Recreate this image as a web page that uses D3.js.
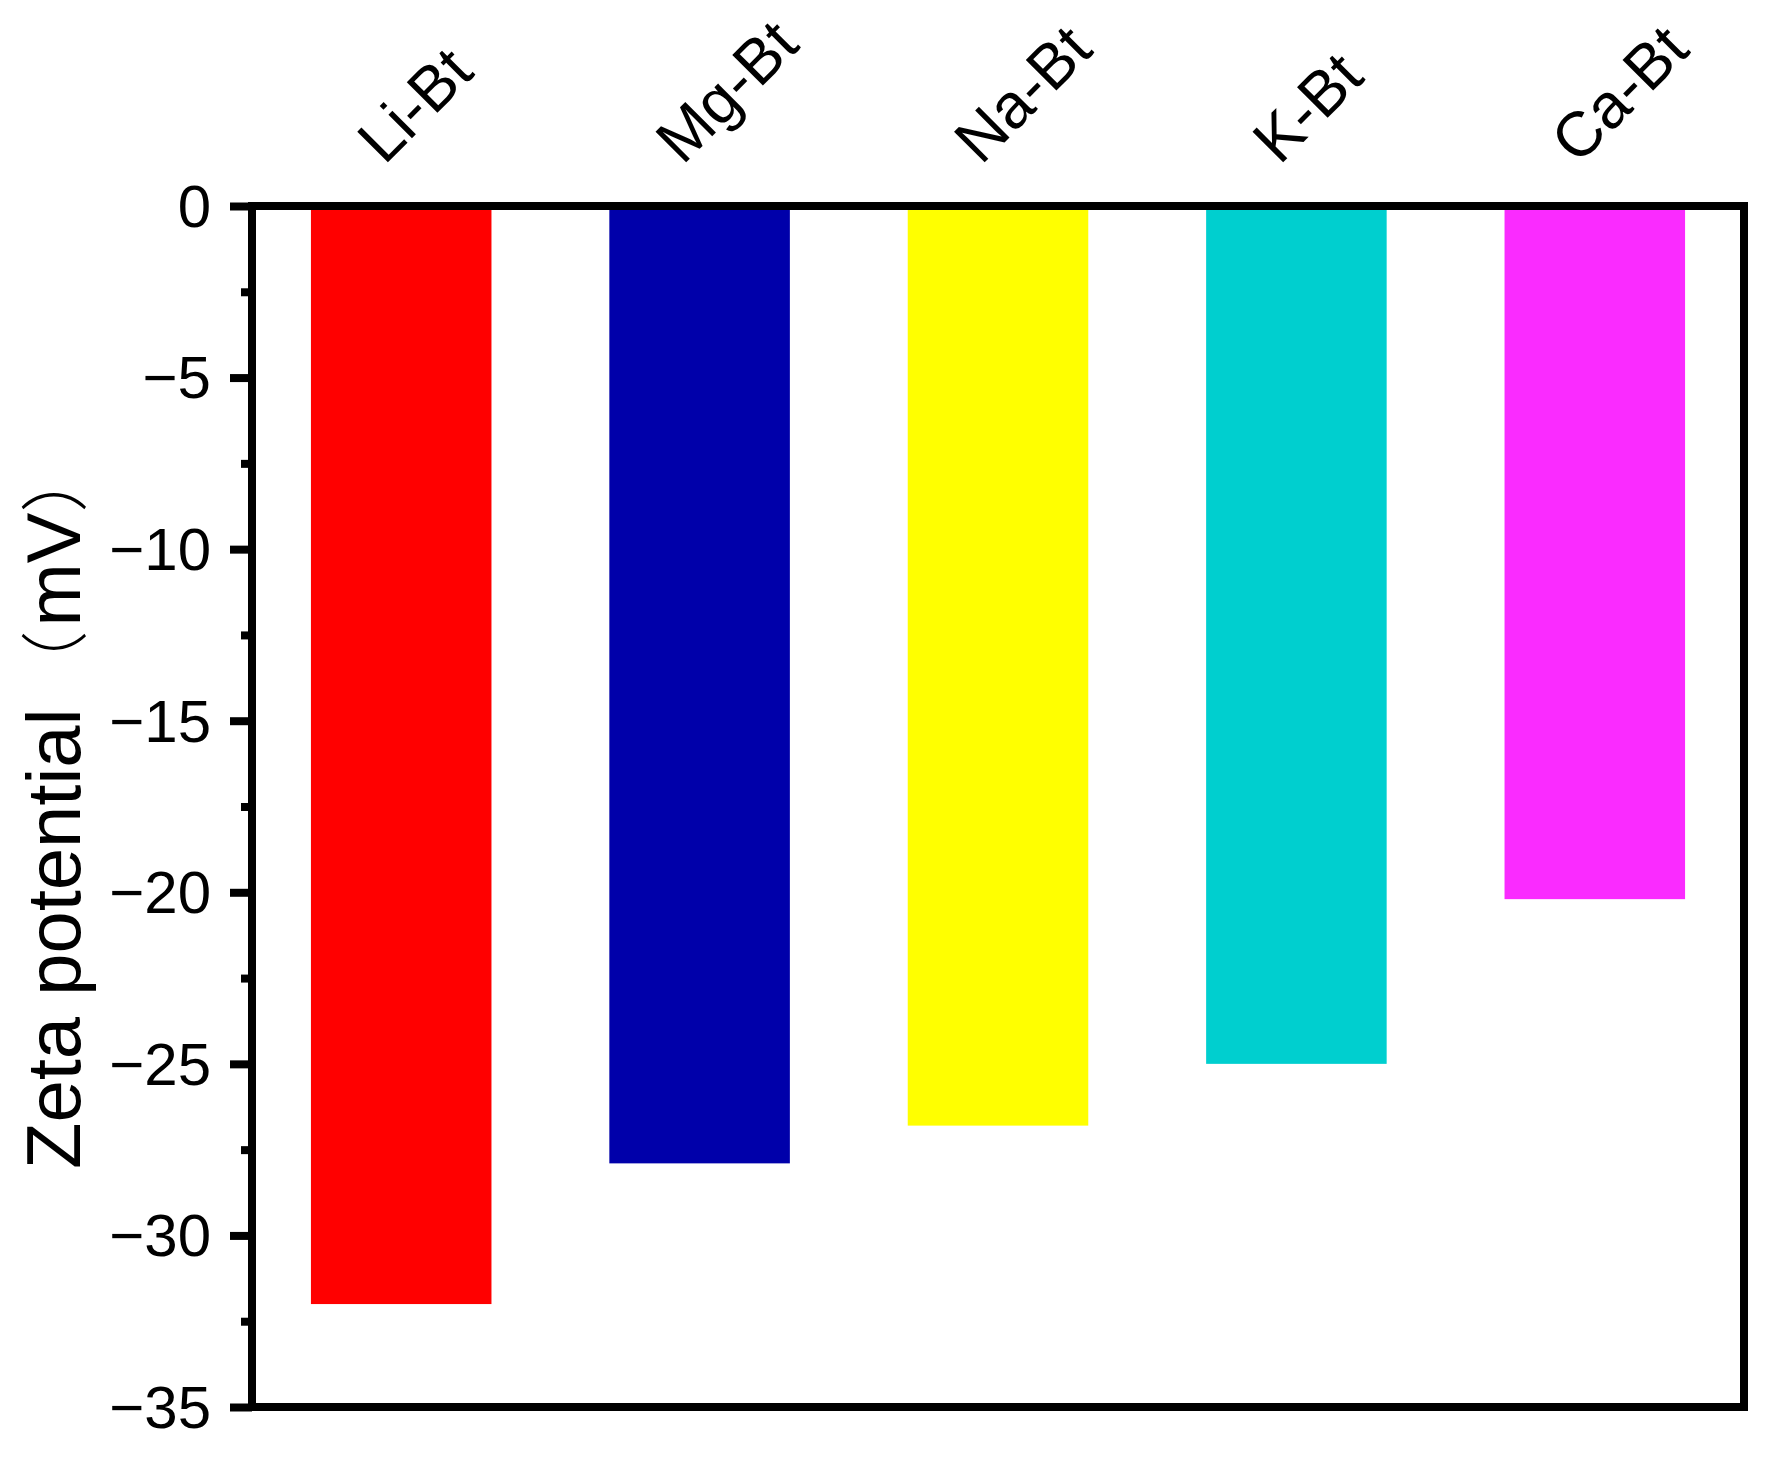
<!DOCTYPE html>
<html>
<head>
<meta charset="utf-8">
<script src="https://cdn.jsdelivr.net/npm/d3@7/dist/d3.min.js"></script>
<style>
  html, body { margin: 0; padding: 0; background: #fff; }
  svg { display: block; }
  text { font-family: "Liberation Sans", Arial, "Noto Sans CJK SC", sans-serif; fill: #000; }
</style>
</head>
<body>
<svg id="chart" width="1768" height="1463"></svg>
<script>
// ---- data ----
const categories = ["Li-Bt", "Mg-Bt", "Na-Bt", "K-Bt", "Ca-Bt"];
const zetaValues = [-32.0, -27.9, -26.8, -25.0, -20.2];
const barColors = ["#FF0000", "#0000AA", "#FFFF00", "#00CFCF", "#FA2BFF"];
const majorTicks = [0, -5, -10, -15, -20, -25, -30, -35];
const minorTicks = [-2.5, -7.5, -12.5, -17.5, -22.5, -27.5, -32.5];
const yTitleParts = ["Zeta potential", "（", "mV", "）"];

// ---- layout ----
const plotL = 252, plotR = 1744, plotT = 206, plotB = 1407;
const svg = d3.select("#chart");

const x = d3.scaleBand().domain(categories).range([plotL, plotR])
  .paddingInner(0.395).paddingOuter(0.1975);
const y = d3.scaleLinear().domain([0, -35]).range([plotT, plotB]);

// bars
svg.append("g").selectAll("rect")
  .data(categories.map((c, i) => ({ c, v: zetaValues[i], col: barColors[i] })))
  .join("rect")
  .attr("x", d => x(d.c))
  .attr("width", x.bandwidth())
  .attr("y", y(0))
  .attr("height", d => y(d.v) - y(0))
  .attr("fill", d => d.col);

// minor ticks
const minorAxis = d3.axisLeft(y).tickValues(minorTicks).tickSize(11).tickFormat("");
const gMinor = svg.append("g").attr("transform", `translate(${plotL},0)`).call(minorAxis);
gMinor.select(".domain").remove();
gMinor.selectAll("line").attr("stroke", "#000").attr("stroke-width", 8);

// major ticks
const majorAxis = d3.axisLeft(y).tickValues(majorTicks).tickSize(22).tickPadding(19)
  .tickFormat(d => d === 0 ? "0" : "\u2212" + Math.abs(d));
const gMajor = svg.append("g").attr("transform", `translate(${plotL},0)`).call(majorAxis);
gMajor.select(".domain").remove();
gMajor.selectAll("line").attr("stroke", "#000").attr("stroke-width", 8);
gMajor.selectAll("text")
  .attr("font-size", 60)
  .attr("font-family", "'Liberation Sans', Arial, sans-serif")
  .attr("fill", "#000")
  .attr("dy", "0.34em");

// frame
svg.append("rect")
  .attr("x", plotL).attr("y", plotT)
  .attr("width", plotR - plotL).attr("height", plotB - plotT)
  .attr("fill", "none").attr("stroke", "#000").attr("stroke-width", 8);

// category labels (top, rotated)
svg.append("g").selectAll("text")
  .data(categories)
  .join("text")
  .attr("transform", d => `translate(${x(d) + x.bandwidth() / 2 - 17},166) rotate(-45)`)
  .attr("text-anchor", "start")
  .attr("font-size", 63)
  .text(d => d);

// y title
const title = svg.append("text")
  .attr("transform", `translate(80,1169) rotate(-90)`)
  .attr("text-anchor", "start")
  .attr("font-size", 76);
title.append("tspan").text(yTitleParts[0]);
title.append("tspan").attr("font-weight", 300).attr("dx", 10).attr("font-size", 68)
  .attr("font-family", "'Noto Sans CJK SC', sans-serif").text(yTitleParts[1]);
title.append("tspan").attr("dx", 4).text(yTitleParts[2]);
title.append("tspan").attr("font-weight", 300).attr("font-size", 68)
  .attr("font-family", "'Noto Sans CJK SC', sans-serif").text(yTitleParts[3]);
</script>
</body>
</html>
